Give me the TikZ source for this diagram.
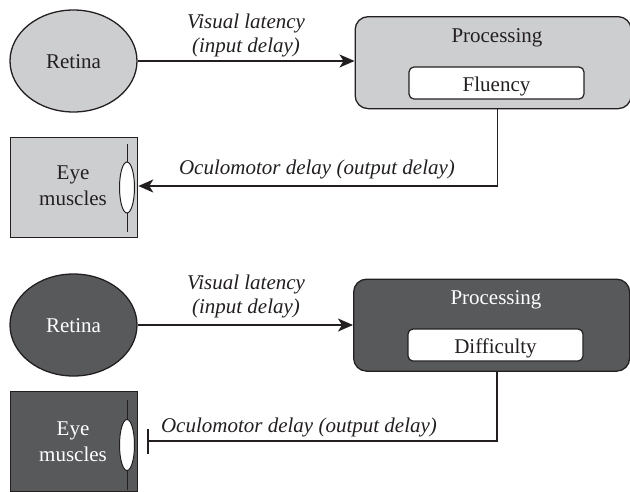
\documentclass[tikz,border=0pt]{standalone}
\usepackage{fontspec}
\setmainfont{Liberation Serif}
\usetikzlibrary{arrows.meta,shapes.geometric,calc}
\definecolor{lightfill}{HTML}{CDCED0}
\definecolor{darkfill}{HTML}{58595B}
\definecolor{ink}{HTML}{231F20}
\tikzset{
  x=1pt,y=-1pt,
  txt/.style={font=\fontsize{21}{23}\selectfont,text=ink,inner sep=0pt,align=center},
  ital/.style={txt,font=\fontsize{21}{24}\selectfont\itshape},
  light/.style={draw=ink,line width=1.3pt,fill=lightfill},
  dark/.style={draw=ink,line width=1.3pt,fill=darkfill},
  eyeball/.style={ellipse,draw=ink,line width=1pt,fill=white,minimum width=15pt,minimum height=51pt,inner sep=0pt},
  inbox/.style={draw=ink,line width=1.2pt,fill=white,rounded corners=5pt,minimum width=175pt,minimum height=32pt,inner sep=0pt,txt},
  procbox/.style={rounded corners=13pt,minimum width=276pt,minimum height=92pt,inner sep=0pt},
  eyebox/.style={rectangle,minimum width=127pt,minimum height=100pt,inner sep=0pt},
  retina/.style={ellipse,minimum width=127pt,minimum height=102pt,inner sep=0pt},
  conn/.style={draw=ink,line width=1.6pt},
  tip/.style={-{Stealth[length=15pt,width=13pt,inset=4pt]}},
  stick/.style={draw=ink,line width=1pt}
}
\begin{document}
\begin{tikzpicture}
\useasboundingbox (0,0) rectangle (630,491);
% upper panel
\node[retina,light] (r1) at (73.5,61) {};
\node[txt] (r1t) at (73.5,61.5) {Retina};
\node[procbox,light,anchor=north west] (p1) at (354.5,16) {};
\node[txt] (p1t) at (497,38) {Processing};
\node[inbox,text depth=0pt] (f1) at (496.5,83) {\raisebox{-1.5pt}{Fluency}};
\node[eyebox,light,anchor=north west] (e1) at (10,137) {};
\node[txt] (e1t) at (73,186) {Eye\\[3pt]muscles};
\coordinate (s1a) at (127,144);
\coordinate (s1b) at (127,232);
\draw[stick] (s1a) -- (s1b);
\node[eyeball] (b1) at (127,187.5) {};
\coordinate (c1) at ($(p1.south west)!0.516!(p1.south east)$);
\coordinate (k1) at (c1 |- 0,186);
\draw[conn,tip] (r1.east) -- (p1.west |- r1.east);
\draw[conn,tip] (c1) -- (k1) -- (e1.east |- k1);
\node[ital] (l1) at (246,35.5) {Visual latency\\(input delay)};
\node[ital] (o1) at (317,169) {Oculomotor delay (output delay)};
% lower panel
\node[retina,dark] (r2) at (73.5,325) {};
\node[txt,text=white] (r2t) at (73.5,326) {Retina};
\node[procbox,dark,anchor=north west] (p2) at (353,278.5) {};
\node[txt,text=white] (p2t) at (496,300) {Processing};
\node[inbox,text depth=0pt] (f2) at (495.5,345) {\raisebox{-1.5pt}{Difficulty}};
\node[eyebox,dark,anchor=north west] (e2) at (10,391) {};
\node[txt,text=white] (e2t) at (73,442) {Eye\\[3pt]muscles};
\coordinate (s2a) at (127,400);
\coordinate (s2b) at (127,490);
\draw[stick] (s2a) -- (s2b);
\node[eyeball] (b2) at (127,445) {};
\coordinate (c2) at ($(p2.south west)!0.52!(p2.south east)$);
\coordinate (k2) at (c2 |- 0,441);
\coordinate (h2) at (148,441);
\coordinate (h2a) at (148,429);
\coordinate (h2b) at (148,454);
\draw[conn,tip] (r2.east) -- (p2.west |- r2.east);
\draw[conn] (c2) -- (k2) -- (h2);
\draw[conn] (h2a) -- (h2b);
\node[ital] (l2) at (246,296.5) {Visual latency\\(input delay)};
\node[ital] (o2) at (299,427) {Oculomotor delay (output delay)};
\end{tikzpicture}
\end{document}
